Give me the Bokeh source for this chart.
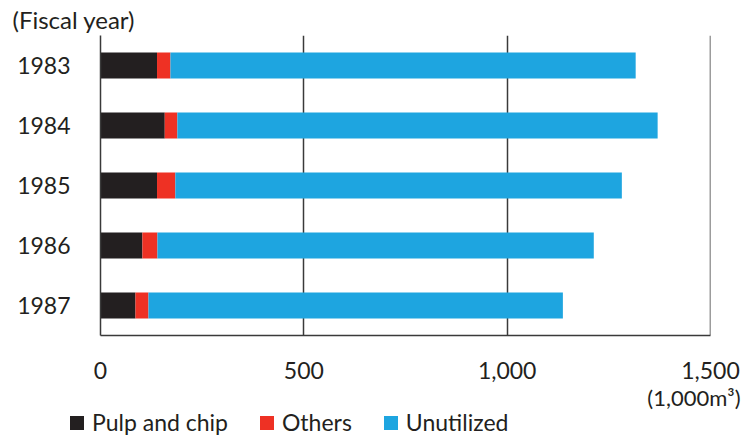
from bokeh.plotting import figure
from bokeh.layouts import column
from bokeh.models import (ColumnDataSource, FactorRange, Range1d, Title, Div,
                          FixedTicker, CustomJSTickFormatter, Span)
from bokeh.embed import file_html
from bokeh.resources import INLINE

# Forest thinning wood use by fiscal year (1,000 m3)
years = ["1983", "1984", "1985", "1986", "1987"]
pulp_and_chip = [139, 158, 139, 103, 86]
others = [33, 31, 45, 37, 32]
unutilized = [1144, 1181, 1098, 1073, 1019]
x_ticks = [0, 500, 1000, 1500]

FONT = "Lato"
TXT = "#231f20"
LINE = "#3a3a3a"
colors = ["#231f20", "#ee3124", "#1ea5e0"]
series = ["Pulp and chip", "Others", "Unutilized"]
stackers = ["pulp", "others", "unutil"]

src = ColumnDataSource(dict(year=years, pulp=pulp_and_chip, others=others, unutil=unutilized))

p = figure(
    width=743, height=410,
    y_range=FactorRange(factors=list(reversed(years))),
    x_range=Range1d(x_ticks[0], x_ticks[-1]),
    output_backend="svg", toolbar_location=None,
    min_border_left=100, min_border_right=33, min_border_top=35, min_border_bottom=75,
)

p.hbar_stack(stackers, y="year", height=0.43, color=colors, line_color=None, source=src)

p.outline_line_color = None
p.background_fill_color = "white"
p.border_fill_color = "white"

# vertical grid lines at the major ticks, dark like the axes
p.ygrid.grid_line_color = None
p.xgrid.ticker = FixedTicker(ticks=x_ticks)
p.xgrid.grid_line_color = LINE
p.xgrid.grid_line_width = 1.5
# the last tick sits on the range edge, so draw it explicitly
p.add_layout(Span(location=x_ticks[-1], dimension="height", line_color=LINE, line_width=1.5))

xa = p.xaxis[0]
xa.ticker = FixedTicker(ticks=x_ticks)
xa.formatter = CustomJSTickFormatter(code="return tick.toLocaleString('en-US');")
xa.major_tick_line_color = None
xa.minor_tick_line_color = None
xa.axis_line_color = LINE
xa.axis_line_width = 1.5
xa.major_label_standoff = 20
xa.major_label_text_font = FONT
xa.major_label_text_font_size = "23px"
xa.major_label_text_color = TXT

ya = p.yaxis[0]
ya.major_tick_line_color = None
ya.minor_tick_line_color = None
ya.axis_line_color = LINE
ya.axis_line_width = 1.5
ya.major_label_standoff = 24
ya.major_label_text_font = FONT
ya.major_label_text_font_size = "23px"
ya.major_label_text_color = TXT

# unit note under the axis, right aligned
p.add_layout(Title(text="(1,000m³)", align="right", offset=-30, standoff=0,
                   text_font=FONT, text_font_size="22px", text_color=TXT,
                   text_font_style="normal"), "below")

# axis caption for the categories
p.add_layout(Title(text="(Fiscal year)", align="left", offset=-88, standoff=4,
                   text_font=FONT, text_font_size="24px", text_color=TXT,
                   text_font_style="normal"), "above")

# legend row under the chart: a colour swatch followed by each series name
entries = []
for i, (name, col) in enumerate(zip(series, colors)):
    gap = "0" if i == 0 else "32px"
    entries.append(
        f'<span style="display:inline-block;width:14px;height:14px;background:{col};'
        f'margin-left:{gap};margin-right:8px;"></span><span>{name}</span>'
    )
legend_html = (
    f'<div style="display:flex;align-items:center;height:25px;padding-left:70px;'
    f'font-family:{FONT};font-size:23px;color:{TXT};white-space:nowrap;">'
    + "".join(entries) + "</div>"
)
leg = Div(text=legend_html, width=743, height=25, margin=(0, 0, 0, 0),
          styles={"background": "white"})

layout = column(p, leg, spacing=0)
open("out.html", "w").write(file_html(layout, INLINE))
